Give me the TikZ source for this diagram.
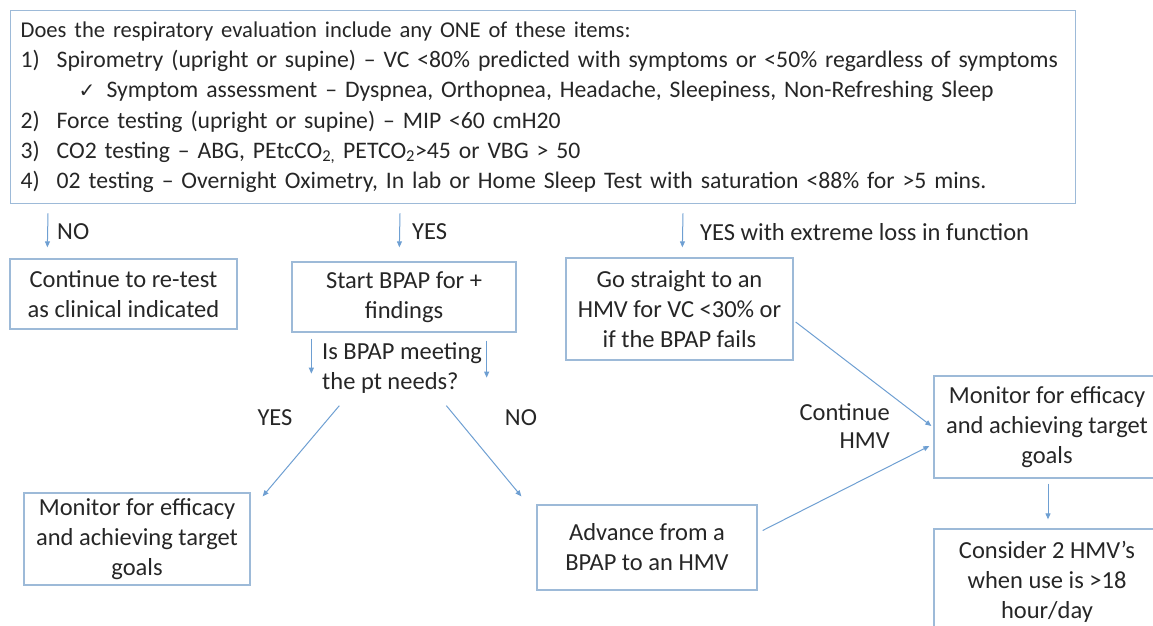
\documentclass[tikz,border=0pt]{standalone}
\usepackage{fontspec}
\setmainfont{Carlito}
\newfontfamily\symfont{DejaVu Sans}
\usetikzlibrary{arrows.meta,calc}
\definecolor{boxline}{HTML}{9DBAD8}
\definecolor{arrline}{HTML}{6E9FD2}
\definecolor{txt}{HTML}{262626}
\newcommand{\itemno}[1]{\makebox[36bp][l]{#1}}
\newcommand{\headsize}{\fontsize{22.6bp}{30.2bp}\selectfont}
\newcommand{\listsize}{\fontsize{23.7bp}{30.2bp}\selectfont}
\begin{document}
\begin{tikzpicture}[x=1bp,y=-1bp,
  every node/.style={text=txt,font=\fontsize{24.5bp}{30bp}\selectfont,inner sep=0pt},
  box/.style={draw=boxline,line width=1.3bp,align=center},
  arr/.style={draw=arrline,line width=1bp,-{Triangle[length=6bp,width=5bp]}}]
\useasboundingbox (0,0) rectangle (1153,626);
\clip (0,0) rectangle (1153,626);

% question box
\node[box,anchor=north west,align=left,text width=1045bp,
      minimum width=1065bp,minimum height=193bp,
      font=\listsize] (top) at (10,10) {%
{\headsize Does the respiratory evaluation include any ONE of these items:}\\
\itemno{1)}Spirometry (upright or supine) – VC <80\% predicted with symptoms or <50\% regardless of symptoms\\
\hspace*{58bp}\makebox[28bp][l]{\symfont\fontsize{20bp}{30bp}\selectfont ✓}Symptom assessment – Dyspnea, Orthopnea, Headache, Sleepiness, Non-Refreshing Sleep\\
\itemno{2)}Force testing (upright or supine) – MIP <60 cmH20\\
\itemno{3)}CO2 testing – ABG, PEtcCO\textsubscript{2,} PETCO\textsubscript{2}>45 or VBG > 50\\
\itemno{4)}02 testing – Overnight Oximetry, In lab or Home Sleep Test with saturation <88\% for >5 mins.};

% first level
\node[box,minimum width=227bp,minimum height=70bp] (cont) at (123.5,294) {Continue to re-test\\as clinical indicated};
\node[box,minimum width=224bp,minimum height=70bp] (start) at (404,297) {Start BPAP for +\\findings};
\node[box,minimum width=227bp,minimum height=102bp] (go) at (679.5,309) {Go straight to an\\HMV for VC <30\% or\\if the BPAP fails};

\node[anchor=west,align=left] (ques) at (322,368) {Is BPAP meeting\\the pt needs?};

% second level
\node[box,minimum width=226bp,minimum height=92bp] (monL) at (137,539) {Monitor for efficacy\\and achieving target\\goals};
\node[box,minimum width=220bp,minimum height=85bp] (adv) at (647,547.5) {Advance from a\\BPAP to an HMV};
\node[box,minimum width=226bp,minimum height=102bp] (monR) at (1047,427) {Monitor for efficacy\\and achieving target\\goals};
\node[box,minimum width=226bp,minimum height=105bp] (cons) at (1047,581.5) {Consider 2 HMV’s\\when use is >18\\hour/day};

% labels
\node[anchor=west] (lno) at (57,232) {NO};
\node[anchor=west] (lyes) at (412,232) {YES};
\node[anchor=west] (lext) at (700,232) {YES with extreme loss in function};
\node (lyes2) at (275,418) {YES};
\node (lno2) at (521,418) {NO};
\node[anchor=east,align=right,font=\fontsize{24.5bp}{28bp}\selectfont] (lcont) at (890,426) {Continue\\HMV};

% connectors
\draw[arr] ($(top.south west)+(38,9)$) -- ($(cont.north west)+(38,-11)$);
\draw[arr] ($(top.south west)+(390,9)$) -- ($(start.north west)+(108,-14)$);
\draw[arr] ($(top.south west)+(673,9)$) -- ($(go.north west)+(117,-10)$);
\draw[arr] ($(start.south west)+(20,6)$) -- ($(start.south west)+(20,41)$);
\draw[arr] ($(start.south east)+(-30,8)$) -- ($(start.south east)+(-30,45)$);
\draw[arr] ($(start.south west)+(48,73)$) -- ($(monL.north east)+(12,4)$);
\draw[arr] ($(start.south west)+(155,73)$) -- ($(adv.north west)+(-15,-8)$);
\draw[arr] ($(go.east)+(2,13)$) -- ($(monR.west)+(-2,-1)$);
\draw[arr] ($(adv.east)+(5,-17)$) -- ($(monR.west)+(-4,19)$);
\draw[arr] ($(monR.south)+(1,5)$) -- ($(cons.north)+(1,-9)$);
\end{tikzpicture}
\end{document}
